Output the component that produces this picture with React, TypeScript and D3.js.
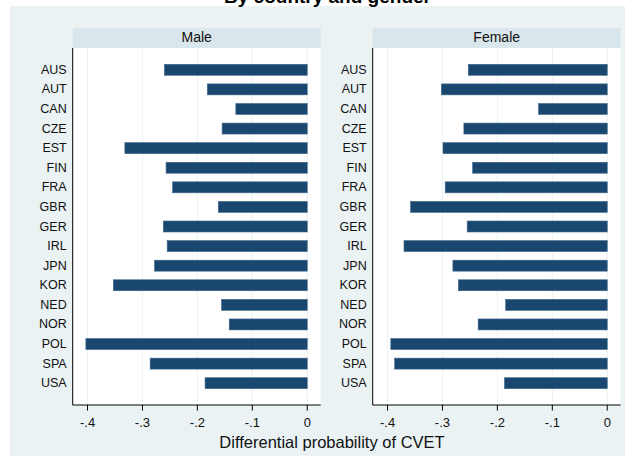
import React from "react";
import * as d3 from "d3";

const countries = ["AUS","AUT","CAN","CZE","EST","FIN","FRA","GBR","GER","IRL","JPN","KOR","NED","NOR","POL","SPA","USA"];
const maleValues = [-0.260,-0.182,-0.130,-0.155,-0.332,-0.257,-0.245,-0.162,-0.262,-0.255,-0.278,-0.353,-0.156,-0.142,-0.403,-0.286,-0.186];
const femaleValues = [-0.253,-0.302,-0.125,-0.261,-0.299,-0.245,-0.295,-0.358,-0.255,-0.370,-0.281,-0.271,-0.185,-0.235,-0.394,-0.387,-0.187];
const xTicks = [-0.4,-0.3,-0.2,-0.1,0];
const panelTitles = ["Male","Female"];
const chartTitle = "By country and gender";
const xAxisTitle = "Differential probability of CVET";

const FONT = "'Liberation Sans', Arial, Helvetica, sans-serif";
const BG = "#eaf2f3";
const STRIP = "#d9e6eb";
const BAR = "#1a476f";

const W = 628, H = 462;
const plotTop = 48, plotBottom = 405;
const panelLefts = [72.7, 372.7];
const panelWidth = 248;

function tickFmt(v: number) {
  if (v === 0) return "0";
  return v < 0 ? "-" + String(Math.abs(v)).replace(/^0/, "") : String(v).replace(/^0/, "");
}

function Panel({ left, title, values }: { left: number; title: string; values: number[] }) {
  const x = d3.scaleLinear().domain([-0.427, 0.0245]).range([left, left + panelWidth]);
  const y = d3.scaleBand<string>().domain(countries).range([plotTop + 12, plotBottom - 12]).paddingInner(0.44).paddingOuter(0.22);
  return (
    <g>
      <rect x={left} y={28} width={panelWidth} height={20} fill={STRIP} />
      <text x={left + panelWidth / 2} y={37.3} textAnchor="middle" dominantBaseline="central" fontFamily={FONT} fontSize={14} fill="#111">{title}</text>
      <rect x={left} y={plotTop} width={panelWidth} height={plotBottom - plotTop} fill="#fff" />
      {xTicks.map((t) => (
        <line key={"g" + t} x1={x(t)} x2={x(t)} y1={plotTop} y2={plotBottom} stroke={BG} strokeWidth={1} />
      ))}
      {countries.map((c, i) => {
        const v = values[i];
        const bx = Math.min(x(v), x(0));
        const bw = Math.abs(x(v) - x(0));
        return (
          <g key={c}>
            <rect x={bx} y={y(c)!} width={bw} height={y.bandwidth()} fill={BAR} stroke="#3f6788" strokeWidth={0.6} />
            <text x={left - 6} y={y(c)! + y.bandwidth() / 2} textAnchor="end" dominantBaseline="central" fontFamily={FONT} fontSize={12.5} fill="#111">{c}</text>
          </g>
        );
      })}
      <line x1={left} x2={left} y1={plotTop} y2={plotBottom} stroke="#000" strokeWidth={1} />
      <line x1={left} x2={left + panelWidth} y1={plotBottom} y2={plotBottom} stroke="#000" strokeWidth={1} />
      {xTicks.map((t) => (
        <g key={"t" + t}>
          <line x1={x(t)} x2={x(t)} y1={plotBottom} y2={plotBottom + 5.5} stroke="#000" strokeWidth={1} />
          <text x={x(t)} y={plotBottom + 17} textAnchor="middle" dominantBaseline="central" fontFamily={FONT} fontSize={13} fill="#111">{tickFmt(t)}</text>
        </g>
      ))}
    </g>
  );
}

export default function App() {
  const series = [maleValues, femaleValues];
  return (
    <svg width={W} height={H} style={{ position: "absolute", left: 0, top: 0 }} xmlns="http://www.w3.org/2000/svg">
      <rect x={0} y={0} width={W} height={H} fill="#fff" />
      <rect x={10} y={6} width={615} height={450} fill={BG} />
      <text x={327.5} y={3} textAnchor="middle" fontFamily={FONT} fontSize={19} fontWeight="bold" fill="#000">{chartTitle}</text>
      {panelTitles.map((t, i) => (
        <Panel key={t} left={panelLefts[i]} title={t} values={series[i]} />
      ))}
      <text x={332} y={442} textAnchor="middle" dominantBaseline="central" fontFamily={FONT} fontSize={16.5} fill="#111">{xAxisTitle}</text>
    </svg>
  );
}
